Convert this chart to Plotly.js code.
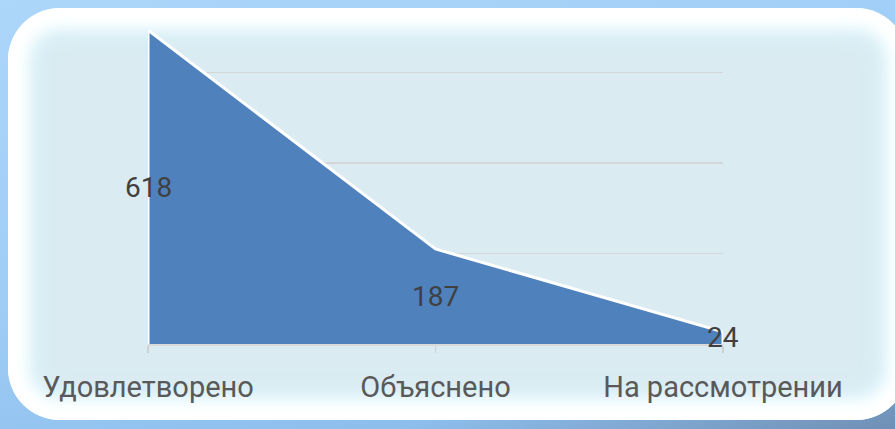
<!DOCTYPE html>
<html>
<head>
<meta charset="utf-8">
<script src="https://cdn.plot.ly/plotly-3.0.1.min.js"></script>
<style>
  html, body { margin: 0; padding: 0; width: 895px; height: 429px; overflow: hidden; }
  body { background: linear-gradient(165deg, #acd6fa 0%, #9fcdf6 45%, #8dbeec 80%, #6f8fb4 100%); position: relative; }
  #frame {
    position: absolute; left: 8px; top: 8px; width: 900px; height: 412px;
    border-radius: 52px;
    background: #daebf2;
    box-shadow: inset 0 0 14px 19px #ffffff, inset 0 0 22px 25px rgba(225,250,255,0.9);
  }
  #chart { position: absolute; left: 0; top: 0; width: 895px; height: 429px; }
</style>
</head>
<body>
<div id="frame"></div>
<div id="chart"></div>
<script>
const categories = ["Удовлетворено", "Объяснено", "На рассмотрении"];
const values = [618, 187, 24];

const polyX = [categories[0]].concat(categories, [categories[categories.length - 1]]);
const polyY = [0].concat(values, [0]);

const trace = {
  type: "scatter",
  mode: "lines",
  x: polyX,
  y: polyY,
  fill: "toself",
  fillcolor: "#4f81bd",
  line: { color: "#ffffff", width: 3 },
  hoverinfo: "skip"
};

const labelFont = { family: "Roboto, 'Noto Sans', sans-serif", size: 28, color: "#404040" };
const annotations = categories.map((c, i) => ({
  x: c, y: values[i] / 2, xref: "x", yref: "y",
  text: String(values[i]), showarrow: false, font: labelFont
}));

const layout = {
  width: 895, height: 429,
  margin: { l: 148, r: 172, t: 30, b: 85 },
  paper_bgcolor: "rgba(0,0,0,0)",
  plot_bgcolor: "rgba(0,0,0,0)",
  showlegend: false,
  xaxis: {
    type: "category",
    categoryarray: categories,
    range: [0, 2],
    showgrid: false,
    zeroline: false,
    showline: true, linecolor: "#d9d9d9", linewidth: 1.5,
    ticks: "outside", ticklen: 7, tickcolor: "#d0d0d0", tickwidth: 1.5,
    ticklabelstandoff: 10,
    tickfont: { family: "Roboto, 'Noto Sans', sans-serif", size: 29, color: "#595959" }
  },
  yaxis: {
    range: [0, 618],
    tick0: 0, dtick: 178,
    showgrid: true, gridcolor: "#d3d7d9", gridwidth: 1.5,
    zeroline: false, showticklabels: false, ticks: ""
  },
  annotations: annotations
};

Plotly.newPlot("chart", [trace], layout, { staticPlot: true, displayModeBar: false });
</script>
</body>
</html>
